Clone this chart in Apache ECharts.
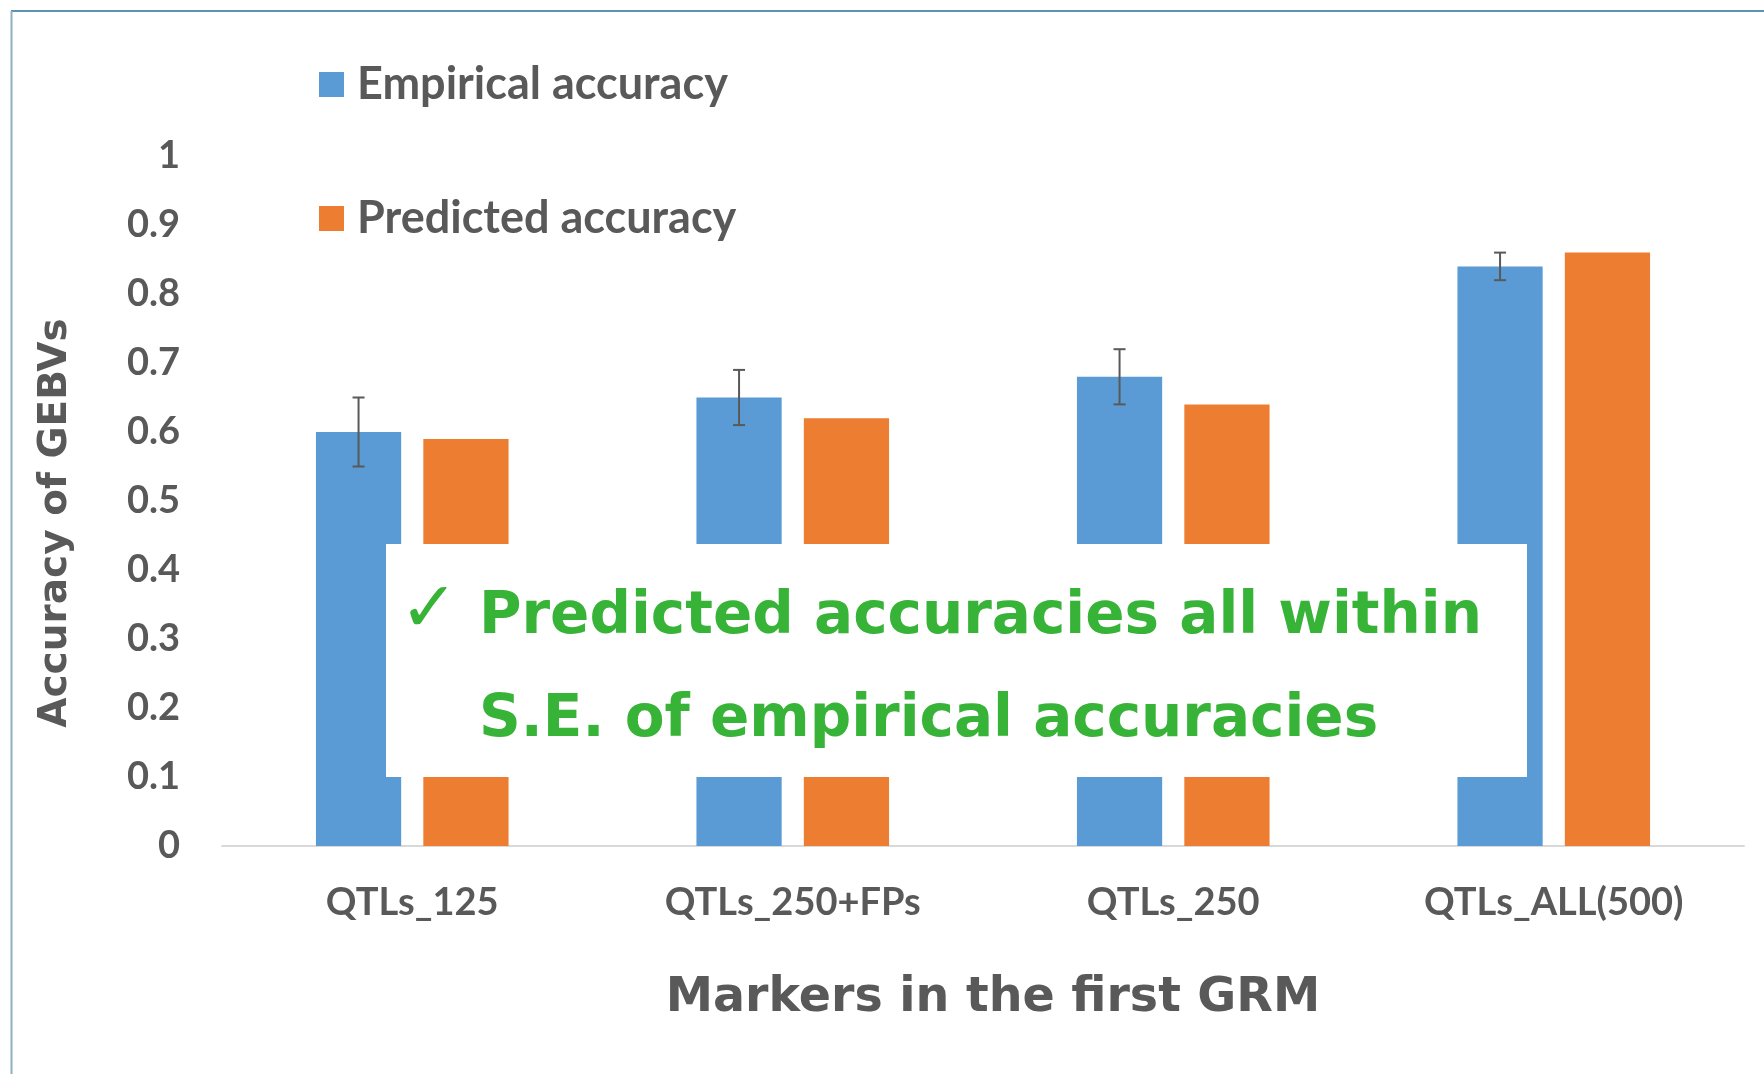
<!DOCTYPE html>
<html>
<head>
<meta charset="utf-8">
<script src="https://cdn.jsdelivr.net/npm/echarts@6/dist/echarts.min.js"></script>
<style>
  html, body { margin: 0; padding: 0; background: #fff; }
  #main { width: 1764px; height: 1074px; }
</style>
</head>
<body>
<div id="main"></div>
<script>
// categories and values
var categories = ['QTLs_125', 'QTLs_250+FPs', 'QTLs_250', 'QTLs_ALL(500)'];
var empirical = [0.60, 0.65, 0.68, 0.84];
var predicted = [0.59, 0.62, 0.64, 0.86];
// standard error of the empirical accuracy
var empiricalSE = [0.05, 0.04, 0.04, 0.02];
var yTicks = [0, 0.1, 0.2, 0.3, 0.4, 0.5, 0.6, 0.7, 0.8, 0.9, 1];

var BAR_W = 0.224;   // fraction of the category band
var BAR_GAP = 0.26;  // fraction of a bar width
var gray = '#595959';
var green = '#37B337';

var errData = [];
for (var i = 0; i < categories.length; i++) {
    errData.push([i, empirical[i] - empiricalSE[i], empirical[i] + empiricalSE[i]]);
}

var myChart = echarts.init(document.getElementById('main'));
myChart.setOption({
    animation: false,
    backgroundColor: '#fff',
    grid: { left: 222, right: 20, top: 156, bottom: 228 },
    legend: {
        orient: 'vertical',
        left: 314,
        top: 57,
        itemWidth: 25,
        itemHeight: 25,
        itemGap: 89,
        icon: 'rect',
        data: ['Empirical accuracy', 'Predicted accuracy'],
        textStyle: {
            fontFamily: 'Lato',
            fontWeight: 'bold',
            fontSize: 45,
            lineHeight: 44,
            color: gray,
            padding: [0, 0, 0, 8]
        }
    },
    xAxis: {
        type: 'category',
        data: categories,
        axisLine: { lineStyle: { color: '#D9D9D9', width: 2 } },
        axisTick: { show: false },
        axisLabel: {
            margin: 38,
            fontFamily: 'Lato',
            fontWeight: 'bold',
            fontSize: 38,
            color: gray
        },
        name: 'Markers in the first GRM',
        nameLocation: 'middle',
        nameGap: 129,
        nameTextStyle: {
            fontFamily: 'DejaVu Sans',
            fontWeight: 'bold',
            fontSize: 47.5,
            color: gray,
            padding: [0, 0, 0, 20]
        }
    },
    yAxis: {
        type: 'value',
        min: 0,
        max: 1,
        interval: 0.1,
        splitLine: { show: false },
        axisLine: { show: false },
        axisTick: { show: false },
        axisLabel: {
            margin: 42,
            fontFamily: 'Lato',
            fontWeight: 'bold',
            fontSize: 38,
            color: gray,
            formatter: function (v) {
                // show only the listed tick labels
                for (var k = 0; k < yTicks.length; k++) {
                    if (Math.abs(yTicks[k] - v) < 1e-9) return String(yTicks[k]);
                }
                return '';
            }
        },
        name: 'Accuracy of GEBVs',
        nameLocation: 'middle',
        nameGap: 147,
        nameTextStyle: {
            fontFamily: 'DejaVu Sans',
            fontWeight: 'bold',
            fontSize: 39,
            color: gray,
            padding: [0, 44, 0, 0]
        }
    },
    series: [
        {
            name: 'Empirical accuracy',
            type: 'bar',
            data: empirical,
            barWidth: (BAR_W * 100) + '%',
            barGap: (BAR_GAP * 100) + '%',
            itemStyle: { color: '#5B9BD5' }
        },
        {
            name: 'Predicted accuracy',
            type: 'bar',
            data: predicted,
            barWidth: (BAR_W * 100) + '%',
            barGap: (BAR_GAP * 100) + '%',
            itemStyle: { color: '#ED7D31' }
        },
        {
            // S.E. error bars on the empirical bars
            name: 'se',
            type: 'custom',
            data: errData,
            z: 5,
            renderItem: function (params, api) {
                var band = api.size([1, 0])[0];
                var bw = band * BAR_W;
                var off = -(bw + bw * BAR_GAP) / 2;
                var lo = api.coord([api.value(0), api.value(1)]);
                var hi = api.coord([api.value(0), api.value(2)]);
                var x = lo[0] + off;
                var cap = 6;
                var st = { stroke: gray, lineWidth: 2 };
                return {
                    type: 'group',
                    children: [
                        { type: 'line', shape: { x1: x, y1: lo[1], x2: x, y2: hi[1] }, style: st },
                        { type: 'line', shape: { x1: x - cap, y1: lo[1], x2: x + cap, y2: lo[1] }, style: st },
                        { type: 'line', shape: { x1: x - cap, y1: hi[1], x2: x + cap, y2: hi[1] }, style: st }
                    ]
                };
            }
        }
    ],
    graphic: [
        { type: 'line', shape: { x1: 11, y1: 11, x2: 1764, y2: 11 }, style: { stroke: '#2A6D96', lineWidth: 1.5 } },
        { type: 'line', shape: { x1: 11.5, y1: 11, x2: 11.5, y2: 1074 }, style: { stroke: '#8DB0C2', lineWidth: 2 } },
        // annotation box drawn over the bars
        { type: 'rect', z: 100, shape: { x: 386, y: 544, width: 1141, height: 233 }, style: { fill: '#fff' } },
        {
            type: 'text', z: 101, x: 429, y: 613,
            style: { text: '\u2713', fontFamily: 'DejaVu Sans', fontSize: 70, fill: green, align: 'center', verticalAlign: 'middle' }
        },
        {
            type: 'text', z: 101, x: 479, y: 618,
            style: { text: 'Predicted accuracies all within', fontFamily: 'DejaVu Sans', fontWeight: 'bold', fontSize: 58, fill: green, verticalAlign: 'middle' }
        },
        {
            type: 'text', z: 101, x: 479, y: 721,
            style: { text: 'S.E. of empirical accuracies', fontFamily: 'DejaVu Sans', fontWeight: 'bold', fontSize: 58, fill: green, verticalAlign: 'middle' }
        }
    ]
});
</script>
</body>
</html>
